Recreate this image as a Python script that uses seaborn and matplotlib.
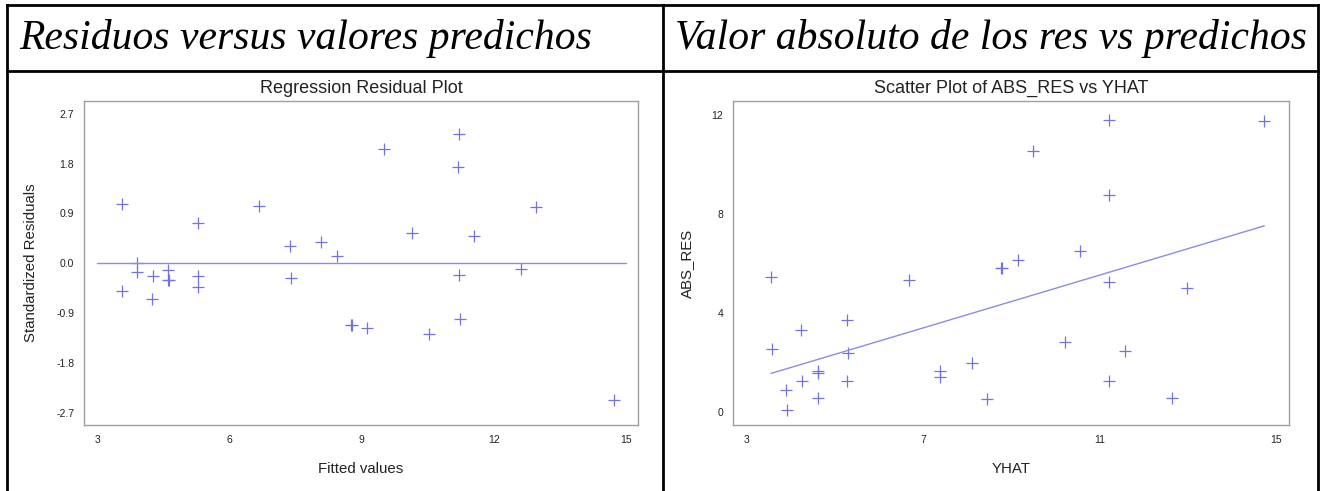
import matplotlib
matplotlib.use("Agg")
import matplotlib.pyplot as plt
import seaborn as sns
import numpy as np
import pandas as pd
from matplotlib.lines import Line2D

# ---------------- data ----------------
header_left = "Residuos versus valores predichos"
header_right = "Valor absoluto de los res vs predichos"

left_title = "Regression Residual Plot"
left_xlabel = "Fitted values"
left_ylabel = "Standardized Residuals"
left_xticks = [3, 6, 9, 12, 15]
left_yticks = [-2.7, -1.8, -0.9, 0.0, 0.9, 1.8, 2.7]

fitted = [3.56, 3.57, 3.90, 3.90, 4.26, 4.24, 4.61, 4.60, 4.62, 5.29, 5.28, 5.29,
          6.67, 7.38, 7.40, 8.08, 8.43, 8.76, 8.78, 9.11, 9.50, 10.15, 10.52,
          11.20, 11.18, 11.20, 11.22, 11.54, 12.61, 12.95, 14.73]
std_resid = [1.07, -0.505, 0.006, -0.16, -0.23, -0.64, -0.12, -0.30, -0.31, 0.73,
             -0.235, -0.43, 1.03, 0.31, -0.26, 0.38, 0.126, -1.11, -1.11, -1.17,
             2.06, 0.55, -1.27, 2.33, 1.73, -0.22, -1.00, 0.49, -0.11, 1.02, -2.46]
ref_x = [3, 15]
ref_y = [0.0, 0.0]

right_title = "Scatter Plot of ABS_RES vs YHAT"
right_xlabel = "YHAT"
right_ylabel = "ABS_RES"
right_xticks = [3, 7, 11, 15]
right_yticks = [0, 4, 8, 12]

yhat = [3.55, 3.57, 3.89, 3.91, 4.23, 4.25, 4.61, 4.61, 4.61, 5.27, 5.30, 5.27,
        6.69, 7.38, 7.38, 8.10, 8.44, 8.76, 8.78, 9.16, 9.49, 10.21, 10.55,
        11.22, 11.22, 11.22, 11.22, 11.58, 12.64, 12.99, 14.74]
abs_res = [5.46, 2.57, 0.90, 0.11, 3.31, 1.26, 1.67, 1.61, 0.60, 3.72, 2.38, 1.27,
           5.33, 1.67, 1.43, 1.98, 0.56, 5.82, 5.82, 6.17, 10.55, 2.84, 6.53,
           11.82, 8.77, 5.26, 1.26, 2.48, 0.60, 5.02, 11.78]
fit_intercept = -0.32
fit_slope = 0.533

# ---------------- style ----------------
sns.set_style("white")
plt.rcParams['font.family'] = ['Liberation Sans', 'DejaVu Sans']

mark_color = "#7272e2"
line_color = "#8c8ce8"
spine_color = "#a0a0a0"
text_color = "#222222"

W, H = 1325, 491
fig = plt.figure(figsize=(W / 100, H / 100), dpi=100)

def fx(px):
    return px / W

def fy(py):
    return 1 - py / H

# table borders
lw = 2.0
for (x0, y0, x1, y1) in [
    (7, 5, 1318, 5),      # top
    (7, 71, 1318, 71),    # header divider
    (7, 5, 7, 491),       # left
    (1318, 5, 1318, 491), # right
    (663, 5, 663, 491),   # middle
]:
    fig.add_artist(Line2D([fx(x0), fx(x1)], [fy(y0), fy(y1)], color="black",
                          lw=lw, transform=fig.transFigure, solid_capstyle="projecting"))

hdr_font = dict(family=['Liberation Serif', 'DejaVu Serif'], style='italic',
                fontsize=30, color='black', va='center', ha='left')
fig.text(fx(19), fy(38), header_left, **hdr_font)
fig.text(fx(675), fy(38), header_right, **hdr_font)

ax_top, ax_bot = 101, 425
axL = fig.add_axes([fx(84), fy(ax_bot), fx(638 - 84), (ax_bot - ax_top) / H])
axR = fig.add_axes([fx(733), fy(ax_bot), fx(1289 - 733), (ax_bot - ax_top) / H])


def style_axis(ax):
    for s in ax.spines.values():
        s.set_color(spine_color)
        s.set_linewidth(1.0)
        s.set_visible(True)
    ax.tick_params(axis='both', which='major', direction='out', length=3,
                   width=0.8, color=spine_color, labelsize=7.5,
                   labelcolor=text_color, pad=4)
    ax.grid(False)


# left panel
df_left = pd.DataFrame({"fitted": fitted, "resid": std_resid})
sns.lineplot(x=ref_x, y=ref_y, ax=axL, color=line_color, linewidth=1.0)
sns.scatterplot(data=df_left, x="fitted", y="resid", ax=axL, marker='+',
                s=70, color=mark_color, linewidth=0.9)
axL.set_xlim(2.70, 15.27)
axL.set_ylim(-2.92, 2.93)
axL.set_xticks(left_xticks)
axL.set_yticks(left_yticks)
axL.set_yticklabels([f"{v:.1f}" for v in left_yticks])
style_axis(axL)
axL.set_title(left_title, fontsize=13, color=text_color, pad=6)
axL.set_xlabel(left_xlabel, fontsize=10.8, color=text_color)
axL.set_ylabel(left_ylabel, fontsize=10.8, color=text_color)
axL.xaxis.set_label_coords(0.5, -(462 - ax_bot) / (ax_bot - ax_top))
axL.yaxis.set_label_coords(-(84 - 38) / (638 - 84), 0.5)

# right panel
df_right = pd.DataFrame({"yhat": yhat, "abs_res": abs_res})
fit_x = np.array([min(yhat), max(yhat)])
fit_y = fit_intercept + fit_slope * fit_x
sns.lineplot(x=fit_x, y=fit_y, ax=axR, color=line_color, linewidth=1.0)
sns.scatterplot(data=df_right, x="yhat", y="abs_res", ax=axR, marker='+',
                s=70, color=mark_color, linewidth=0.9)
axR.set_xlim(2.69, 15.30)
axR.set_ylim(-0.51, 12.58)
axR.set_xticks(right_xticks)
axR.set_yticks(right_yticks)
style_axis(axR)
axR.set_title(right_title, fontsize=13, color=text_color, pad=6)
axR.set_xlabel(right_xlabel, fontsize=10.8, color=text_color)
axR.set_ylabel(right_ylabel, fontsize=10.8, color=text_color)
axR.xaxis.set_label_coords(0.5, -(462 - ax_bot) / (ax_bot - ax_top))
axR.yaxis.set_label_coords(-(733 - 694) / (1289 - 733), 0.5)

fig.savefig("out.png", dpi=100)
